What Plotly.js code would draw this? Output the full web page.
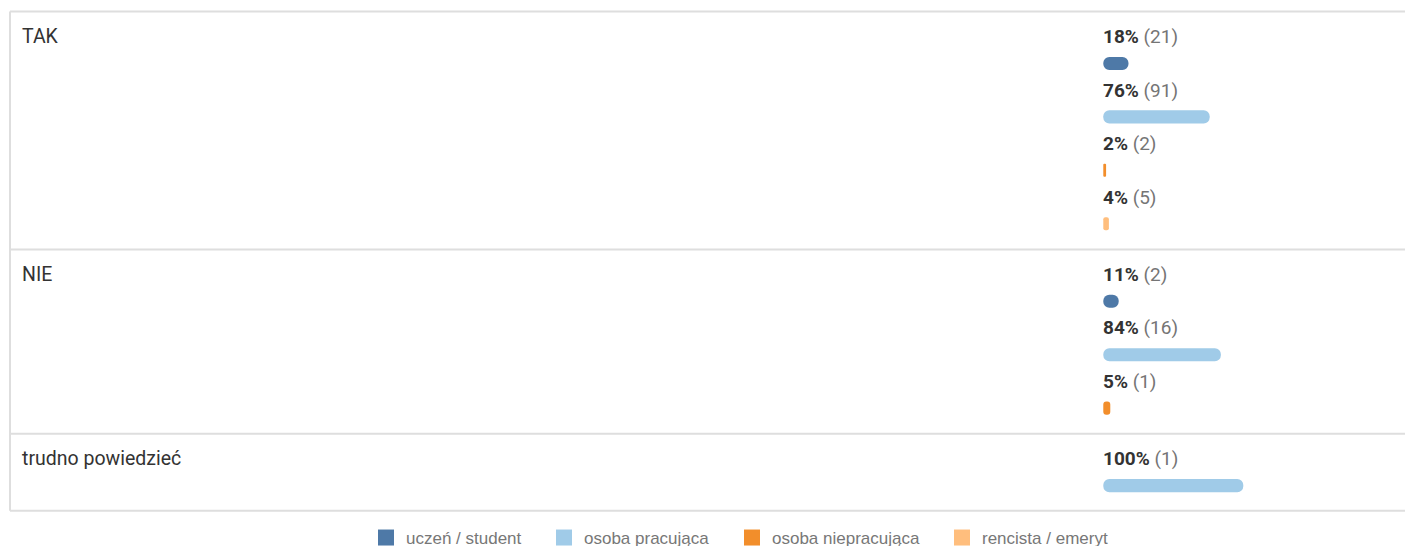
<!DOCTYPE html>
<html><head><meta charset="utf-8">
<script src="https://cdn.plot.ly/plotly-3.0.1.min.js"></script>
<style>html,body{margin:0;padding:0;background:#fff}#chart{width:1405px;height:546px}</style>
</head><body><div id="chart"></div>
<script>
const categories = ["TAK", "NIE", "trudno powiedzieć"];
const seriesNames = ["uczeń / student", "osoba pracująca", "osoba niepracująca", "rencista / emeryt"];
const seriesColors = ["#4e79a7", "#a0cbe8", "#f28e2b", "#ffbe7d"];
const pctStudent = [18, 11, null];
const pctWorking = [76, 84, 100];
const pctNotWorking = [2, 5, null];
const pctRetired = [4, null, null];
const cntStudent = [21, 2, null];
const cntWorking = [91, 16, 1];
const cntNotWorking = [2, 1, null];
const cntRetired = [5, null, null];

const pcts = [pctStudent, pctWorking, pctNotWorking, pctRetired];
const cnts = [cntStudent, cntWorking, cntNotWorking, cntRetired];

const GAP = 0.45;
const series = seriesNames.map(() => ({x: [], y: [], c: []}));
const annotations = [];
const shapes = [];
const lineStyle = {color: "#dedede", width: 2};
let offset = 0;
let firstTop = null, lastBottom = null;
categories.forEach((cat, r) => {
  let j = 0;
  const start = offset;
  pcts.forEach((arr, s) => {
    if (arr[r] === null) return;
    const k = offset + j;
    series[s].x.push(arr[r]);
    series[s].y.push(k);
    series[s].c.push(cnts[s][r]);
    annotations.push({
      xref: "x", yref: "y", x: 0, y: k - 0.5, xanchor: "left", yanchor: "middle",
      xshift: -2, showarrow: false,
      text: "<b>" + arr[r] + "%</b> <span style=\"color:#757575\">(" + cnts[s][r] + ")</span>",
      font: {family: "Roboto", size: 19, color: "#333333"}
    });
    j++;
  });
  const top = start - 0.97, bottom = start + j - 1 + 0.47;
  annotations.push({
    xref: "paper", yref: "y", x: 12 / 1395, y: start - 0.5, xanchor: "left", yanchor: "middle",
    xshift: -2, showarrow: false, text: cat,
    font: {family: "Roboto", size: 19.5, color: "#333333"}
  });
  if (firstTop === null) firstTop = top;
  shapes.push({type: "line", xref: "paper", yref: "y", x0: 0, x1: 1, y0: top, y1: top, line: lineStyle});
  lastBottom = bottom;
  offset = start + j + GAP;
});
shapes.push({type: "line", xref: "paper", yref: "y", x0: 0, x1: 1, y0: lastBottom, y1: lastBottom, line: lineStyle});
shapes.push({type: "line", xref: "paper", yref: "y", x0: 0, x1: 0, y0: firstTop, y1: lastBottom, line: lineStyle});

const legendIds = ["legend", "legend2", "legend3", "legend4"];
const legendTextX = [406, 584, 772, 982];
const traces = [];
series.forEach((sd, s) => {
  traces.push({
    type: "bar", orientation: "h", x: sd.x, y: sd.y, base: 0, width: 0.245,
    marker: {color: seriesColors[s], cornerradius: 6.5},
    name: seriesNames[s], legendgroup: "g" + s, showlegend: false, hoverinfo: "skip"
  });
  traces.push({
    type: "scatter", mode: "markers", x: [null], y: [null],
    marker: {symbol: "square", size: 16, color: seriesColors[s]},
    name: seriesNames[s], legendgroup: "g" + s, legend: legendIds[s], showlegend: true, hoverinfo: "skip"
  });
});

const layout = {
  width: 1405, height: 546,
  margin: {l: 10, r: 0, t: 10, b: 31, autoexpand: false},
  paper_bgcolor: "#ffffff", plot_bgcolor: "#ffffff",
  barmode: "overlay",
  showlegend: true,
  xaxis: {visible: false, range: [-780.9, 215.5], fixedrange: true},
  yaxis: {visible: false, range: [8.45, -1.0], fixedrange: true},
  annotations: annotations,
  shapes: shapes
};
legendIds.forEach((id, i) => {
  layout[id] = {
    orientation: "h", xanchor: "left", yanchor: "middle",
    x: (legendTextX[i] - 40 - 10) / 1395, y: -0.0455,
    bgcolor: "rgba(0,0,0,0)", borderwidth: 0,
    font: {family: "Liberation Sans", size: 17, color: "#777777"}
  };
});

Plotly.newPlot("chart", traces, layout, {displayModeBar: false, staticPlot: true});
</script>
</body></html>
